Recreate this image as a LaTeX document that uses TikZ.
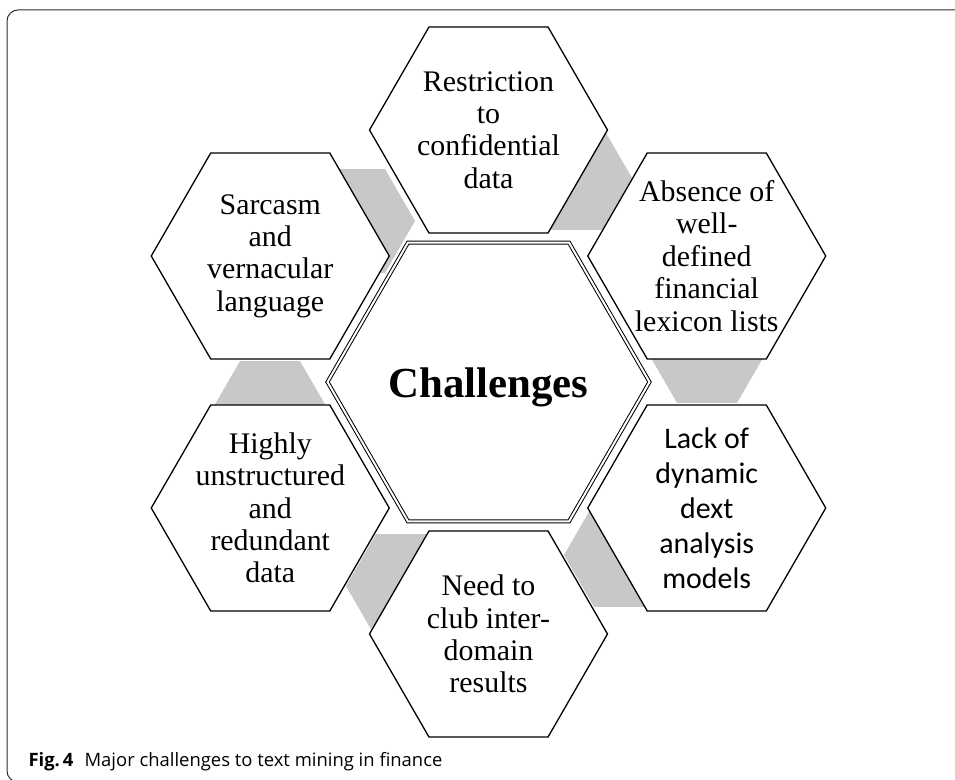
\documentclass[tikz,border=0pt]{standalone}
\usepackage{fontspec}
\setmainfont{Liberation Serif}
\newfontfamily\sanstxt{Carlito}
\newfontfamily\capfont{Open Sans}
\usepackage{xcolor}
\usepackage{tikz}
\usetikzlibrary{shapes.geometric}
\definecolor{linkgray}{RGB}{200,200,200}
\definecolor{framegray}{RGB}{45,45,45}

\begin{document}
\begin{tikzpicture}[x=1bp, y=1bp,
    hexa/.style={regular polygon, regular polygon sides=6, inner sep=0pt, minimum size=238bp, draw=black, line width=1.3bp, fill=white},
    hub/.style={regular polygon, regular polygon sides=6, inner sep=0pt, minimum size=322bp, draw=black, line width=1bp, double=white, double distance=2bp},
    link/.style={regular polygon, regular polygon sides=6, inner sep=0pt, minimum size=120bp, fill=linkgray},
    txt/.style={align=center, font=\fontsize{30}{32.5}\selectfont}]
    \useasboundingbox (0,0) rectangle (955,780);
    \draw[framegray, line width=1bp, rounded corners=11bp] (965,770) -- (7,770) -- (7,-2) -- (965,-2); % frame
    \foreach \n/\x/\y in {1/707/429, 2/572/602, 3/355/559, 4/270/367, 5/406/194, 6/624/225}
        \node[link] (link\n) at (\x,\y) {}; % gray joints
    \node[hub] (hub) at (488.5,398) {};
    \node[hexa] (restr) at ([shift={(90:252)}]hub.center) {};
    \node[hexa] (absence) at ([shift={(30:252)}]hub.center) {};
    \node[hexa] (lack) at ([shift={(-30:252)}]hub.center) {};
    \node[hexa] (need) at ([shift={(-90:252)}]hub.center) {};
    \node[hexa] (highly) at ([shift={(-150:252)}]hub.center) {};
    \node[hexa] (sarcasm) at ([shift={(150:252)}]hub.center) {};
    \node[anchor=base, font=\bfseries\fontsize{43}{48}\selectfont] (hub-txt) at ([yshift=-16bp]hub.center) {Challenges};
    \node[txt] (restr-txt) at (restr) {Restriction\\to\\confidential\\data};
    \node[txt] (absence-txt) at (absence) {Absence of\\well-\\defined\\financial\\lexicon lists};
    \node[txt, font=\sanstxt\fontsize{30}{35}\selectfont] (lack-txt) at (lack) {Lack of\\dynamic\\dext\\analysis\\models};
    \node[txt] (need-txt) at (need) {Need to\\club inter-\\domain\\results};
    \node[txt] (highly-txt) at (highly) {Highly\\unstructured\\and\\redundant\\data};
    \node[txt] (sarcasm-txt) at (sarcasm) {Sarcasm\\and\\vernacular\\language};
    \node[anchor=base west, font=\capfont\fontsize{18.5}{21}\selectfont] (caption) at (25,13) {\textbf{Fig.\,4}\hspace{0.6em}Major challenges to text mining in finance}; % caption
\end{tikzpicture}
\end{document}
